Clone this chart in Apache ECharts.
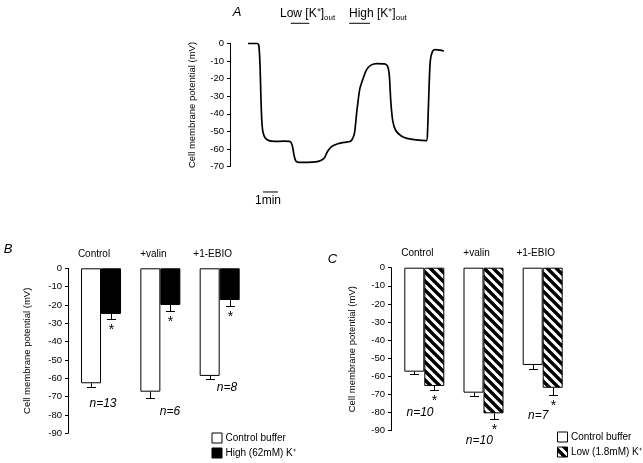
<!DOCTYPE html>
<html><head><meta charset="utf-8">
<script src="https://cdn.jsdelivr.net/npm/echarts@6/dist/echarts.min.js"></script>
<style>html,body{margin:0;padding:0;background:#fff}#c{width:643px;height:463px}</style>
</head><body><div id="c"></div>
<script>
// ---- Panel A: membrane potential trace (time in min, potential in mV)
const traceTime = [0, 0.6, 0.72, 0.8, 0.86, 0.92, 1.0, 1.15, 1.4, 1.8, 2.4, 2.8, 2.95, 3.08, 3.2, 3.4, 4.0, 4.5, 4.85, 5.1, 5.3, 5.55, 5.9, 6.4, 6.8, 6.95, 7.1, 7.25, 7.45, 7.65, 7.9, 8.2, 8.6, 9.1, 9.3, 9.42, 9.52, 9.65, 9.85, 10.2, 10.6, 11.2, 11.9, 11.97, 12.05, 12.15, 12.3, 12.5, 12.8, 13.05];
const traceMv = [0, 0, -1, -12, -30, -44, -50.5, -53.8, -55.3, -55.7, -55.6, -55.8, -58, -64, -67, -67.6, -67.6, -67.4, -66.6, -65, -61.5, -58.8, -57.3, -56.3, -55.8, -54.5, -51, -39, -26, -20.5, -15, -12.3, -11.4, -11.6, -12.8, -18, -33, -44, -49.5, -52.5, -54, -54.9, -55.3, -50, -30, -10, -4.5, -3.5, -3.8, -4.3];
const lowKPeriod = [2.85, 4.09];
const highKPeriod = [6.75, 8.13];
const scaleBarMin = [1, 2];

// ---- Panels B and C
const categories = ['Control', '+valin', '+1-EBIO'];
const bControl = [-62.7, -67.3, -58.7];
const bControlErr = [1.8, 3.6, 1.8];
const bHigh = [-24.9, -20.0, -17.3];
const bHighErr = [2.6, 3.1, 3.2];
const cControl = [-57.4, -69.0, -53.7];
const cControlErr = [1.3, 1.7, 2.2];
const cLow = [-65.3, -80.4, -66.3];
const cLowErr = [2.2, 3.3, 4.0];
const nB = ['n=13', 'n=6', 'n=8'];
const nC = ['n=10', 'n=10', 'n=7'];
const legendB = ['Control buffer', 'High (62mM) K⁺'];
const legendC = ['Control buffer', 'Low (1.8mM) K⁺'];

const FONT = 'Liberation Sans, Arial, Helvetica, sans-serif';
const BAR_W = 20;

function hatch() {
  const s = 9, cv = document.createElement('canvas');
  cv.width = s; cv.height = s;
  const g = cv.getContext('2d');
  g.fillStyle = '#fff'; g.fillRect(0, 0, s, s);
  g.strokeStyle = '#000'; g.lineWidth = 3.4;
  for (const k of [-s, 0, s]) { g.beginPath(); g.moveTo(k - 1, -1); g.lineTo(k + s + 1, s + 1); g.stroke(); }
  return cv;
}
const hatchFill = { image: hatch(), repeat: 'repeat' };

function errRender(side, star) {
  return function (params, api) {
    const i = api.value(0), v = api.value(1), e = api.value(2);
    const p0 = api.coord([i, v]);
    const p1 = api.coord([i, v - e]);
    const x = Math.round(p0[0] + side * BAR_W / 2) + 0.5;
    const y1 = Math.round(p1[1]) + 0.5;
    const ch = [
      { type: 'line', shape: { x1: x, y1: p0[1], x2: x, y2: y1 }, style: { stroke: '#000', lineWidth: 1 } },
      { type: 'line', shape: { x1: x - 4.5, y1: y1, x2: x + 4.5, y2: y1 }, style: { stroke: '#000', lineWidth: 1 } }
    ];
    if (star) ch.push({ type: 'text', style: { text: '*', x: x, y: y1 + 11, align: 'center', verticalAlign: 'middle', font: '14px ' + FONT, fill: '#000' } });
    return { type: 'group', children: ch };
  };
}
const triple = (vals, errs) => vals.map((v, i) => [i, v, errs[i]]);

function yAx(grid, min, offset, gap) {
  return {
    gridIndex: grid, type: 'value', min: min, max: 0, interval: 10, offset: offset,
    axisLine: { show: true, onZero: false, lineStyle: { color: '#000', width: 1 } },
    axisTick: { show: true, length: 3, lineStyle: { color: '#000' } },
    splitLine: { show: false },
    axisLabel: { color: '#000', fontSize: 9.5, fontFamily: FONT, margin: 6 },
    name: 'Cell membrane potential (mV)', nameLocation: 'middle', nameGap: gap,
    nameTextStyle: { color: '#000', fontSize: 9.5, fontFamily: FONT }
  };
}
function catAx(grid) {
  return {
    gridIndex: grid, type: 'category', data: categories, position: 'top',
    axisLine: { show: false, onZero: false }, axisTick: { show: false },
    axisLabel: { color: '#000', fontSize: 10, fontFamily: FONT, margin: 9, padding: [0, 14, 0, 0] }
  };
}
function txt(x, y, t, size, italic, align) {
  return { type: 'text', x: x, y: y, style: { text: t, fill: '#000', font: (italic ? 'italic ' : '') + size + 'px ' + FONT, textAlign: align || 'center', textVerticalAlign: 'middle' } };
}
function legendItems(x, y, names, fills) {
  const out = [];
  names.forEach((n, i) => {
    const yy = y + i * 15;
    out.push({ type: 'rect', shape: { x: x + 0.5, y: yy + 0.5, width: 10, height: 10 }, style: { fill: fills[i], stroke: '#000', lineWidth: 1 } });
    out.push(txt(x + 14, yy + 5.5, n, 10, false, 'left'));
  });
  return out;
}

const chart = echarts.init(document.getElementById('c'), null, { renderer: 'canvas' });
const lineSeg = (xs, y) => xs.map(t => [t, y]);
const richK = {
  n: { fontSize: 12, fontFamily: FONT, color: '#000', lineHeight: 16, verticalAlign: 'middle' },
  o: { fontSize: 8, fontFamily: FONT, color: '#000', lineHeight: 16, verticalAlign: 'bottom', padding: [6, 0, 0, 0] }
};

chart.setOption({
  animation: false,
  backgroundColor: '#fff',
  grid: [
    { left: 230, top: 43.5, width: 214.5, height: 123 },
    { left: 71.35, top: 268.3, width: 178, height: 165 },
    { left: 394.7, top: 267.7, width: 177.6, height: 163 }
  ],
  xAxis: [
    { gridIndex: 0, type: 'value', min: -1.2, max: 13.1, show: false },
    catAx(1), catAx(2)
  ],
  yAxis: [ yAx(0, -70, 0, 33), yAx(1, -90, 3.35, 36), yAx(2, -90, 3.7, 34) ],
  graphic: [
    txt(237, 12, 'A', 13, true),
    txt(8, 249, 'B', 13, true),
    txt(332.5, 259, 'C', 13, true),
    txt(268, 201, '1min', 12, false),
    txt(103, 404, nB[0], 12, true), txt(170, 412, nB[1], 12, true), txt(227, 388, nB[2], 12, true),
    txt(420, 412.7, nC[0], 12, true), txt(479.3, 440.7, nC[1], 12, true), txt(538.3, 415.7, nC[2], 12, true),
    { type: 'text', x: 280, y: 14, style: { text: '{n|Low [K⁺]}{o|out}', rich: richK, textVerticalAlign: 'middle' } },
    { type: 'text', x: 349, y: 14, style: { text: '{n|High [K⁺]}{o|out}', rich: richK, textVerticalAlign: 'middle' } }
  ].concat(legendItems(211.5, 432.5, legendB, ['#fff', '#000']))
   .concat(legendItems(557, 431.5, legendC, ['#fff', hatchFill])),
  series: [
    { type: 'line', xAxisIndex: 0, yAxisIndex: 0, data: traceTime.map((t, i) => [t, traceMv[i]]), symbol: 'none', smooth: 0.25, lineStyle: { color: '#000', width: 1.7 }, clip: false },
    { type: 'line', xAxisIndex: 0, yAxisIndex: 0, data: lineSeg(lowKPeriod, 11.5), symbol: 'none', lineStyle: { color: '#000', width: 1 }, clip: false },
    { type: 'line', xAxisIndex: 0, yAxisIndex: 0, data: lineSeg(highKPeriod, 11.5), symbol: 'none', lineStyle: { color: '#000', width: 1 }, clip: false },
    { type: 'line', xAxisIndex: 0, yAxisIndex: 0, data: lineSeg(scaleBarMin, -84.5), symbol: 'none', lineStyle: { color: '#000', width: 1 }, clip: false },

    { name: legendB[0], type: 'bar', xAxisIndex: 1, yAxisIndex: 1, data: bControl, barWidth: BAR_W, barGap: '0%', itemStyle: { color: '#fff', borderColor: '#000', borderWidth: 1 } },
    { name: legendB[1], type: 'bar', xAxisIndex: 1, yAxisIndex: 1, data: bHigh, barWidth: BAR_W, barGap: '0%', itemStyle: { color: '#000', borderColor: '#000', borderWidth: 1 } },
    { type: 'custom', xAxisIndex: 1, yAxisIndex: 1, data: triple(bControl, bControlErr), renderItem: errRender(-1, false), encode: { x: 0, y: 1 }, z: 5 },
    { type: 'custom', xAxisIndex: 1, yAxisIndex: 1, data: triple(bHigh, bHighErr), renderItem: errRender(1, true), encode: { x: 0, y: 1 }, z: 5 },

    { name: legendC[0], type: 'bar', xAxisIndex: 2, yAxisIndex: 2, data: cControl, barWidth: BAR_W, barGap: '0%', itemStyle: { color: '#fff', borderColor: '#000', borderWidth: 1 } },
    { name: legendC[1], type: 'bar', xAxisIndex: 2, yAxisIndex: 2, data: cLow, barWidth: BAR_W, barGap: '0%', itemStyle: { color: hatchFill, borderColor: '#000', borderWidth: 1 } },
    { type: 'custom', xAxisIndex: 2, yAxisIndex: 2, data: triple(cControl, cControlErr), renderItem: errRender(-1, false), encode: { x: 0, y: 1 }, z: 5 },
    { type: 'custom', xAxisIndex: 2, yAxisIndex: 2, data: triple(cLow, cLowErr), renderItem: errRender(1, true), encode: { x: 0, y: 1 }, z: 5 }
  ]
});
</script>
</body></html>
